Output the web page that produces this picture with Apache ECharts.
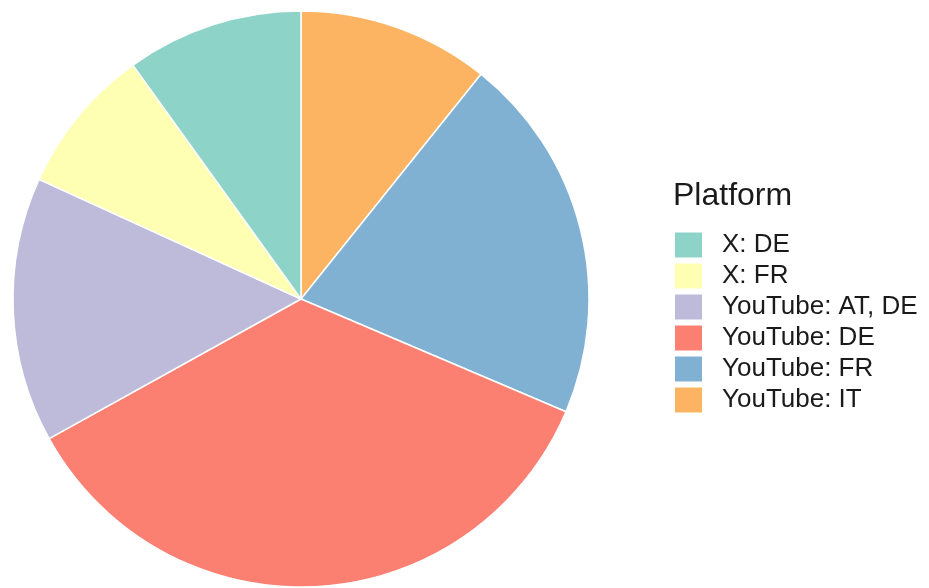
<!DOCTYPE html>
<html>
<head>
<meta charset="utf-8">
<script src="https://cdn.jsdelivr.net/npm/echarts@6/dist/echarts.min.js"></script>
<style>html,body{margin:0;padding:0;background:#fff;}#c{width:929px;height:588px;}</style>
</head>
<body>
<div id="c"></div>
<script>
// Slice order clockwise from 12 o'clock
const categories = ["YouTube: IT", "YouTube: FR", "YouTube: DE", "YouTube: AT, DE", "X: FR", "X: DE"];
const values = [13, 25, 43, 18, 10, 12];
const colors = ["#FDB462", "#80B1D3", "#FB8072", "#BEBADA", "#FFFFB3", "#8DD3C7"];
const legendOrder = ["X: DE", "X: FR", "YouTube: AT, DE", "YouTube: DE", "YouTube: FR", "YouTube: IT"];
const legendTitle = "Platform";

const chart = echarts.init(document.getElementById('c'), null, {renderer: 'canvas'});
chart.setOption({
  animation: false,
  backgroundColor: '#ffffff',
  title: {
    text: legendTitle,
    left: 673, top: 180, padding: 0,
    textStyle: {fontFamily: 'Liberation Sans', fontSize: 32, fontWeight: 'normal', color: '#1a1a1a'}
  },
  legend: {
    orient: 'vertical',
    left: 675, top: 232, padding: 0,
    data: legendOrder,
    icon: 'rect',
    itemWidth: 27, itemHeight: 25, itemGap: 5,
    itemStyle: {borderWidth: 0},
    selectedMode: false,
    textStyle: {fontFamily: 'Liberation Sans', fontSize: 26, lineHeight: 25, color: '#1a1a1a', padding: [0, 0, 0, 15]}
  },
  series: [{
    type: 'pie',
    center: [301, 299],
    radius: [0, 288],
    startAngle: 90,
    clockwise: true,
    label: {show: false},
    labelLine: {show: false},
    emphasis: {disabled: true},
    itemStyle: {borderColor: '#ffffff', borderWidth: 1.5},
    data: categories.map((c, i) => ({name: c, value: values[i], itemStyle: {color: colors[i]}}))
  }]
});
</script>
</body>
</html>
